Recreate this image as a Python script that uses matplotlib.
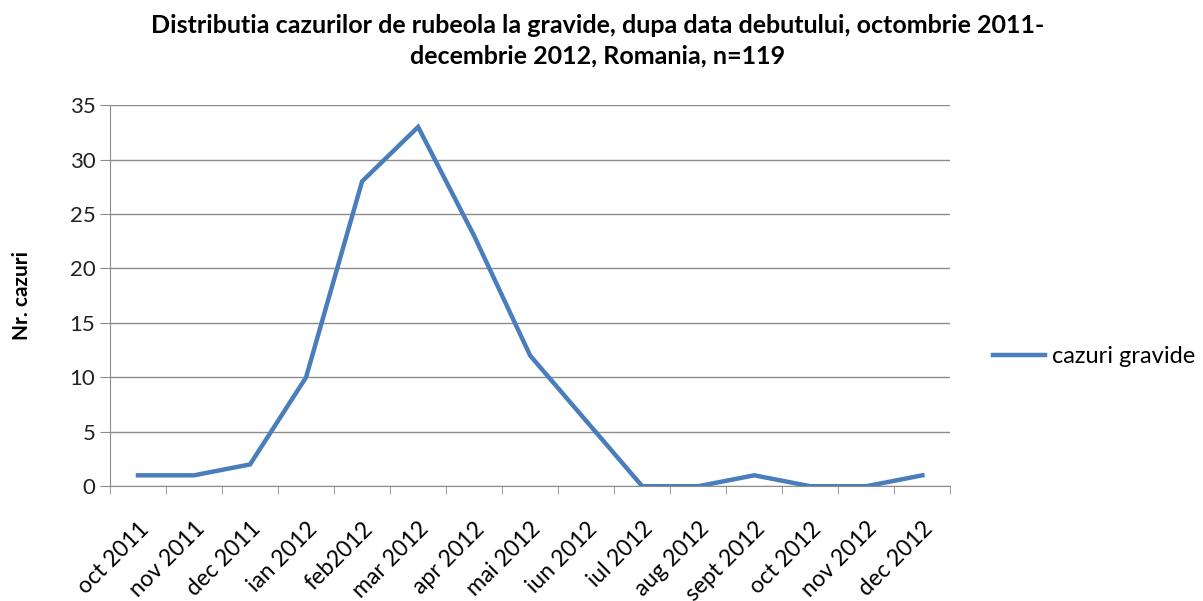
import numpy as np
import matplotlib.pyplot as plt

months = ["oct 2011", "nov 2011", "dec 2011", "ian 2012", "feb2012", "mar 2012",
          "apr 2012", "mai 2012", "iun 2012", "iul 2012", "aug 2012", "sept 2012",
          "oct 2012", "nov 2012", "dec 2012"]
cazuri_gravide = [1, 1, 2, 10, 28, 33, 23, 12, 6, 0, 0, 1, 0, 0, 1]
y_ticks = [0, 5, 10, 15, 20, 25, 30, 35]

plt.rcParams["font.family"] = ["Lato", "DejaVu Sans"]

fig = plt.figure(figsize=(12.03, 6.01), dpi=100)
ax = fig.add_axes([0.0914, 0.191, 0.6986, 0.634])

x = np.arange(len(months))
ax.plot(x, cazuri_gravide, color="#4A7EBB", linewidth=3.2, label="cazuri gravide",
        solid_joinstyle="miter")

ax.set_xlim(-0.5, len(months) - 0.5)
ax.set_ylim(0, 35)
ax.set_yticks(y_ticks)
ax.yaxis.grid(True, color="#8c8c8c", linewidth=1)
ax.set_axisbelow(True)

ax.set_xticks(x)
ax.set_xticklabels(months, rotation=45, ha="right", rotation_mode="anchor", fontsize=16.5)
ax.tick_params(axis="x", which="major", length=0, pad=23)
ax.set_xticks(np.arange(-0.5, len(months)), minor=True)
ax.tick_params(axis="x", which="minor", length=6, color="#8c8c8c", direction="out")
ax.tick_params(axis="y", length=7, color="#8c8c8c", labelsize=16, labelcolor="#222222")

for side in ["top", "right"]:
    ax.spines[side].set_visible(False)
for side in ["left", "bottom"]:
    ax.spines[side].set_color("#8c8c8c")

ax.set_ylabel("Nr. cazuri", fontsize=15, fontweight="bold")
ax.yaxis.set_label_coords(-0.093, 0.5)
fig.suptitle("Distributia cazurilor de rubeola la gravide, dupa data debutului, octombrie 2011-\n"
             "decembrie 2012, Romania, n=119",
             x=0.497, y=0.977, fontsize=18, fontweight="bold", linespacing=1.4)

ax.legend(loc="center left", bbox_to_anchor=(1.025, 0.34), frameon=False,
          fontsize=17, handlelength=2.2, handletextpad=0.3)

fig.savefig("out.png", dpi=100)
